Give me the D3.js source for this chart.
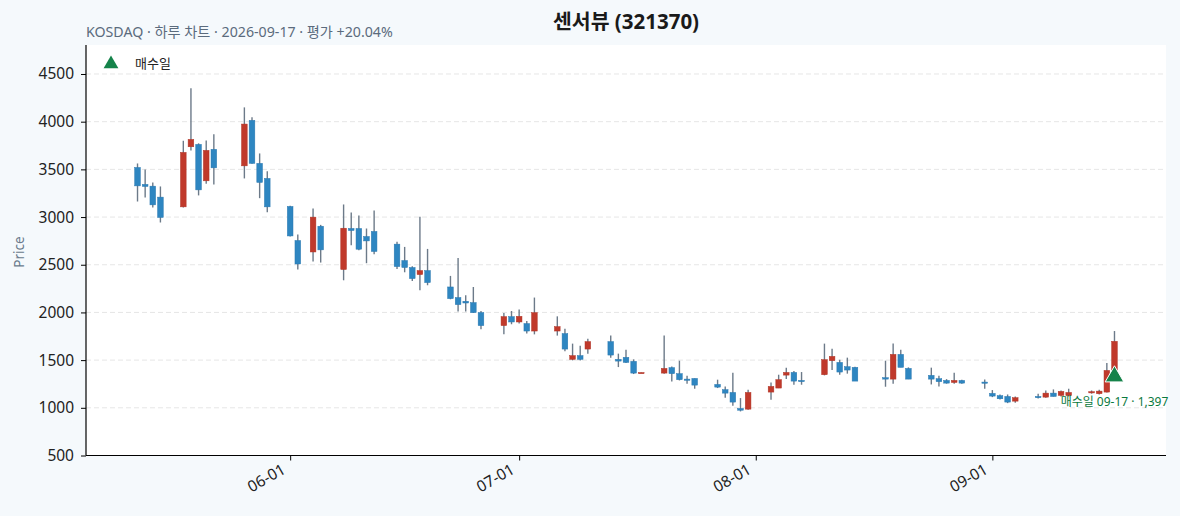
<!DOCTYPE html>
<html>
<head>
<meta charset="utf-8">
<script src="https://cdn.jsdelivr.net/npm/d3@7/dist/d3.min.js"></script>
<style>
  html, body { margin: 0; padding: 0; background: #f5f9fc; }
  svg { display: block; }
  text { font-family: "Noto Sans", "Noto Sans CJK KR", sans-serif; }
</style>
</head>
<body>
<svg id="chart" width="1180" height="516"></svg>
<script>
// ---- data ----
const dates = ["2026-05-12","2026-05-13","2026-05-14","2026-05-15","2026-05-18","2026-05-19","2026-05-20","2026-05-21","2026-05-22",
"2026-05-26","2026-05-27","2026-05-28","2026-05-29","2026-06-01","2026-06-02","2026-06-04","2026-06-05","2026-06-08","2026-06-09",
"2026-06-10","2026-06-11","2026-06-12","2026-06-15","2026-06-16","2026-06-17","2026-06-18","2026-06-19","2026-06-22","2026-06-23",
"2026-06-24","2026-06-25","2026-06-26","2026-06-29","2026-06-30","2026-07-01","2026-07-02","2026-07-03","2026-07-06","2026-07-07",
"2026-07-08","2026-07-09","2026-07-10","2026-07-13","2026-07-14","2026-07-15","2026-07-16","2026-07-17","2026-07-20","2026-07-21",
"2026-07-22","2026-07-23","2026-07-24","2026-07-27","2026-07-28","2026-07-29","2026-07-30","2026-07-31","2026-08-03","2026-08-04",
"2026-08-05","2026-08-06","2026-08-07","2026-08-10","2026-08-11","2026-08-12","2026-08-13","2026-08-14","2026-08-18","2026-08-19",
"2026-08-20","2026-08-21","2026-08-24","2026-08-25","2026-08-26","2026-08-27","2026-08-28","2026-08-31","2026-09-01","2026-09-02",
"2026-09-03","2026-09-04","2026-09-07","2026-09-08","2026-09-09","2026-09-10","2026-09-11","2026-09-14","2026-09-15","2026-09-16",
"2026-09-17"];
const openP = [3520,3342,3324,3209,3107,3737,3762,3380,3710,
3537,4014,3563,3405,3111,2754,2634,2904,2450,2880,
2880,2796,2849,2716,2544,2471,2397,2439,2267,2156,
2117,2103,1998,1862,1956,1900,1883,1805,1805,1778,
1508,1547,1616,1694,1508,1529,1487,1366,1364,1421,
1358,1301,1308,1245,1190,1161,993,986,1165,1207,
1343,1371,1287,1347,1494,1476,1431,1424,1316,1301,
1560,1413,1340,1305,1287,1266,1287,1270,1151,1127,
1119,1070,1119,1112,1154,1130,1127,1158,1148,1165,
1397];
const highP = [3562,3499,3363,3321,3800,4350,3773,3804,3867,
4150,4046,3667,3479,3118,2817,3090,2918,3132,3048,
3017,2880,3069,2740,2687,2484,3002,2666,2383,2571,
2180,2267,2015,1994,2015,2030,1910,2156,1959,1830,
1673,1652,1725,1757,1568,1610,1508,1370,1757,1434,
1494,1337,1308,1295,1224,1368,1102,1190,1266,1347,
1421,1385,1375,1673,1620,1505,1526,1431,1494,1673,
1610,1424,1421,1337,1301,1368,1294,1298,1186,1140,
1140,1119,1148,1182,1193,1182,1200,1182,1190,1469,
1805];
const lowP = [3163,3206,3101,2943,3100,3699,3227,3348,3342,
3405,3560,3198,3051,2795,2450,2534,2523,2337,2705,
2652,2516,2610,2456,2421,2330,2232,2285,2138,2009,
2009,1995,1823,1770,1876,1883,1778,1770,1757,1592,
1497,1497,1568,1526,1427,1469,1354,1366,1358,1277,
1287,1253,1200,1207,1106,1022,962,980,1085,1207,
1301,1242,1242,1340,1396,1347,1358,1280,1221,1253,
1424,1301,1245,1224,1253,1253,1253,1200,1112,1088,
1049,1053,1098,1106,1119,1119,1119,1148,1140,1160,
1390];
const closeP = [3327,3321,3128,2996,3678,3814,3285,3699,3516,
3975,3563,3363,3107,2802,2508,2999,2656,2883,2859,
2663,2750,2639,2481,2471,2355,2439,2313,2145,2082,
2099,1998,1862,1956,1900,1959,1805,1998,1851,1616,
1547,1508,1694,1553,1490,1476,1364,1370,1413,1358,
1295,1290,1238,1217,1154,1060,975,1161,1224,1295,
1371,1280,1277,1505,1539,1375,1396,1280,1301,1560,
1424,1301,1301,1274,1259,1287,1259,1259,1123,1095,
1060,1106,1106,1154,1119,1172,1161,1169,1175,1392,
1697];
const yTicks = [500,1000,1500,2000,2500,3000,3500,4000,4500];
const buyDate = "2026-09-17";
const buyPrice = 1397;
const buyMarkerPrice = 1328;
const titleText = "센서뷰 (321370)";
const subtitleText = "KOSDAQ · 하루 차트 · 2026-09-17 · 평가 +20.04%";
const legendLabel = "매수일";

// ---- layout ----
const W = 1180, H = 516;
const plot = {left: 86, right: 1166, top: 45, bottom: 455.5};
const upColor = "#c0392b", downColor = "#2e86c1", wickColor = "#6c7a89";
const buyColor = "#15834a";
const DAY = 86400000;

const parse = d3.utcParse("%Y-%m-%d");
const data = dates.map((d, i) => ({date: parse(d), o: openP[i], h: highP[i], l: lowP[i], c: closeP[i]}));

const svg = d3.select("#chart");
svg.append("rect").attr("width", W).attr("height", H).attr("fill", "#f5f9fc");
svg.append("rect").attr("x", plot.left).attr("y", plot.top)
  .attr("width", plot.right - plot.left).attr("height", plot.bottom - plot.top).attr("fill", "#ffffff");

const first = data[0].date, last = data[data.length - 1].date;
const pad = 6.75 * DAY;
const x = d3.scaleUtc().domain([new Date(+first - pad), new Date(+last + pad)]).range([plot.left, plot.right]);
const y = d3.scaleLinear().domain([500, 4804]).range([plot.bottom, plot.top]);

// grid
svg.append("g").selectAll("line").data(yTicks.filter(t => t > 500)).join("line")
  .attr("x1", plot.left).attr("x2", plot.right)
  .attr("y1", d => y(d)).attr("y2", d => y(d))
  .attr("stroke", "#e6e6e6").attr("stroke-width", 1).attr("stroke-dasharray", "5,3");

// candles
const bodyHalf = 0.37 * DAY;
const g = svg.append("g");
g.selectAll("line.wick").data(data).join("line").attr("class", "wick")
  .attr("x1", d => x(d.date)).attr("x2", d => x(d.date))
  .attr("y1", d => y(d.h)).attr("y2", d => y(d.l))
  .attr("stroke", wickColor).attr("stroke-width", 1.4);
g.selectAll("rect.body").data(data).join("rect").attr("class", "body")
  .attr("x", d => x(new Date(+d.date - bodyHalf)))
  .attr("width", d => x(new Date(+d.date + bodyHalf)) - x(new Date(+d.date - bodyHalf)))
  .attr("y", d => y(Math.max(d.o, d.c)))
  .attr("height", d => Math.max(1.2, Math.abs(y(d.o) - y(d.c))))
  .attr("fill", d => d.c >= d.o ? upColor : downColor)
  .attr("stroke", d => d.c >= d.o ? "#b03426" : "#2a78b0").attr("stroke-width", 0.5);

// axes
const yAxis = d3.axisLeft(y).tickValues(yTicks).tickFormat(d3.format("d")).tickSize(5).tickPadding(7);
const yg = svg.append("g").attr("transform", `translate(${plot.left},0)`).call(yAxis);
yg.select(".domain").attr("stroke", "#000").attr("stroke-width", 1.2).attr("d", `M0,${plot.top}V${plot.bottom}`);
yg.selectAll(".tick line").attr("stroke", "#000");
yg.selectAll(".tick text").attr("fill", "#222").style("font-size", "15.5px");

const xAxis = d3.axisBottom(x).ticks(d3.utcMonth.every(1)).tickFormat(d3.utcFormat("%m-%d")).tickSize(5).tickPadding(4);
const xg = svg.append("g").attr("transform", `translate(0,${plot.bottom})`).call(xAxis);
xg.select(".domain").attr("stroke", "#000").attr("stroke-width", 1.2).attr("d", `M${plot.left},0H${plot.right}`);
xg.selectAll(".tick line").attr("stroke", "#000");
xg.selectAll(".tick text").attr("fill", "#222").style("font-size", "15.5px")
  .attr("text-anchor", "end").attr("x", 0).attr("y", 0).attr("dy", 0)
  .attr("transform", "translate(-4,17) rotate(-30)");

// y label
svg.append("text").attr("transform", `translate(24,252) rotate(-90)`)
  .attr("text-anchor", "middle").attr("fill", "#6b7b8c").style("font-size", "13.5px").text("Price");

// title
svg.append("text").attr("x", (plot.left + plot.right) / 2).attr("y", 29).attr("text-anchor", "middle")
  .attr("fill", "#1a1a1a").style("font-size", "20.5px").style("font-weight", "bold").text(titleText);
svg.append("text").attr("x", plot.left).attr("y", 37).attr("fill", "#5b6b7d").style("font-size", "14.2px").text(subtitleText);

// legend
const tri = d3.symbol().type(d3.symbolTriangle);
svg.append("path").attr("d", tri.size(95)()).attr("transform", `translate(111,64)`).attr("fill", buyColor);
svg.append("text").attr("x", 135).attr("y", 68).attr("fill", "#222").style("font-size", "13px").text(legendLabel);

// buy marker
const bd = parse(buyDate);
svg.append("path").attr("d", tri.size(150)()).attr("transform", `translate(${x(bd)},${y(buyMarkerPrice)})`)
  .attr("fill", buyColor).attr("stroke", "#ffffff").attr("stroke-width", 1);
svg.append("text").attr("x", x(bd)).attr("y", y(buyMarkerPrice) + 29.5).attr("text-anchor", "middle")
  .attr("fill", "#0b7a3e").style("font-size", "12px")
  .text(`${legendLabel} ${d3.utcFormat("%m-%d")(bd)} · ${d3.format(",")(buyPrice)}`);
</script>
</body>
</html>
